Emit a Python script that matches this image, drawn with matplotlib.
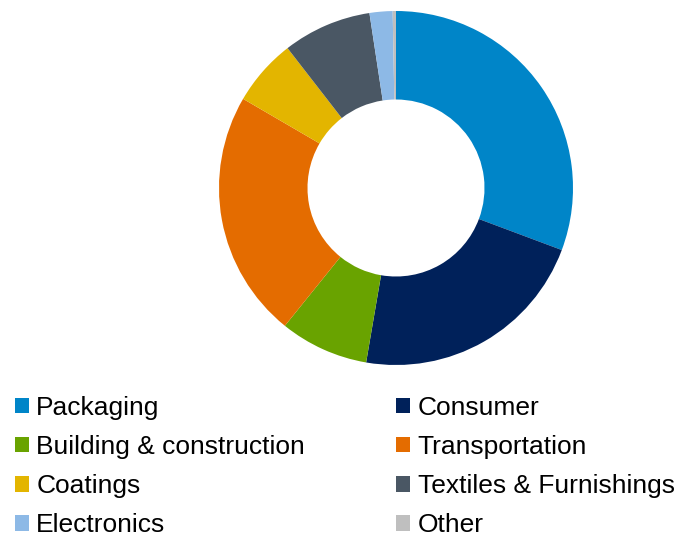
import matplotlib
matplotlib.use("Agg")
import matplotlib.pyplot as plt
from matplotlib.patches import Patch

plt.rcParams['font.family'] = ['Liberation Sans', 'DejaVu Sans']

# udziały sektorów (%)
sectors = ["Packaging", "Consumer", "Building & construction", "Transportation",
           "Coatings", "Textiles & Furnishings", "Electronics", "Other"]
shares = [30.7, 22.0, 8.1, 22.6, 6.1, 8.1, 2.1, 0.3]
colors = ["#0085C8", "#00215A", "#69A300", "#E46C00",
          "#E3B500", "#4A5764", "#8DB9E6", "#BFBFBF"]

fig = plt.figure(figsize=(6.85, 5.36), dpi=100)
ax = fig.add_axes([219 / 685, 171 / 536, 354 / 685, 354 / 536])

ax.pie(shares, colors=colors, startangle=90, counterclock=False,
       wedgeprops=dict(width=0.5, edgecolor='none'))
ax.set_xlim(-1, 1)
ax.set_ylim(-1, 1)
ax.set_aspect('equal')
ax.axis('off')

# legenda wierszami: kolejność kolumnowa dla ncol=2
handles = [Patch(facecolor=c, edgecolor='none') for c in colors]
order = [0, 2, 4, 6, 1, 3, 5, 7]
leg = fig.legend([handles[i] for i in order], [sectors[i] for i in order],
                 ncol=2, loc='upper left', bbox_to_anchor=(15 / 685, 1 - 396 / 536),
                 frameon=False, fontsize=19, handlelength=0.53, handleheight=0.53,
                 handletextpad=0.28, columnspacing=3.45, labelspacing=0.57,
                 borderaxespad=0, borderpad=0)

fig.savefig("out.png", dpi=100)
